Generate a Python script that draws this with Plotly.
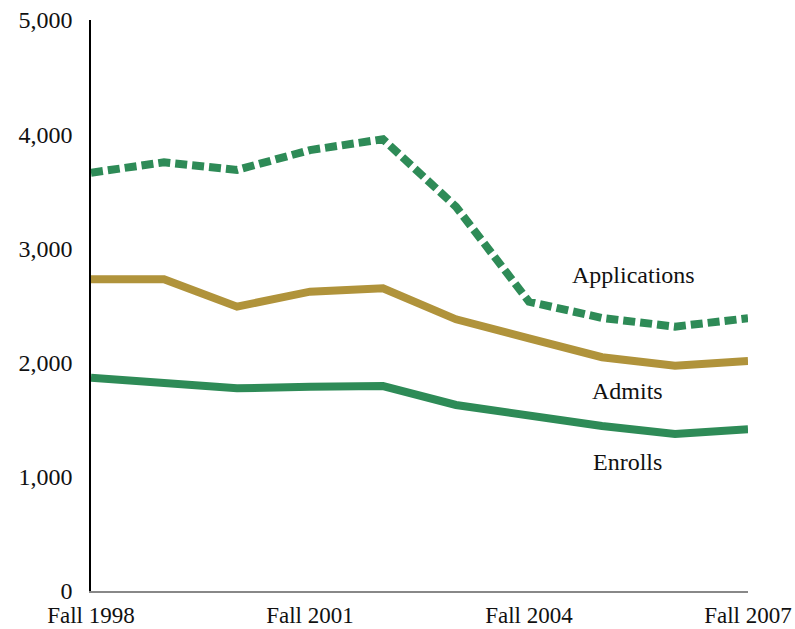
import plotly.graph_objects as go

years = ["Fall 1998", "Fall 1999", "Fall 2000", "Fall 2001", "Fall 2002",
         "Fall 2003", "Fall 2004", "Fall 2005", "Fall 2006", "Fall 2007"]
applications = [3663, 3754, 3687, 3861, 3956, 3365, 2533, 2391, 2315, 2388]
admits = [2730, 2730, 2490, 2621, 2651, 2379, 2213, 2047, 1973, 2014]
enrolls = [1868, 1824, 1775, 1789, 1795, 1629, 1532, 1445, 1375, 1416]
tick_idx = [0, 3, 6, 9]
y_ticks = [0, 1000, 2000, 3000, 4000, 5000]

GREEN = "#2E8B57"
GOLD = "#B0933B"
FONT = "Liberation Serif"
FS = 24

xs = list(range(len(years)))
fig = go.Figure()
fig.add_trace(go.Scatter(x=xs, y=enrolls, mode="lines", name="Enrolls",
                         line=dict(color=GREEN, width=8), cliponaxis=False))
fig.add_trace(go.Scatter(x=xs, y=admits, mode="lines", name="Admits",
                         line=dict(color=GOLD, width=8), cliponaxis=False))
fig.add_trace(go.Scatter(x=xs, y=applications, mode="lines", name="Applications",
                         line=dict(color=GREEN, width=8, dash="12px,5px"),
                         cliponaxis=False))

fig.update_layout(
    width=795, height=629,
    margin=dict(l=91, r=47, t=20, b=38),
    paper_bgcolor="white", plot_bgcolor="white",
    showlegend=False,
    font=dict(family=FONT, size=FS, color="#111"),
    xaxis=dict(range=[0, 9], tickvals=tick_idx,
               ticktext=[years[i] for i in tick_idx],
               tickfont=dict(size=23),
               showgrid=False, zeroline=False, showline=True,
               linecolor="#888", linewidth=1.5, ticks="",
               ticklabelstandoff=3, automargin=False,
               ticklabeloverflow="allow"),
    yaxis=dict(range=[0, 5000], tickvals=y_ticks, tickformat=",",
               showgrid=False, zeroline=False, showline=True,
               linecolor="black", linewidth=1.5, ticks="",
               ticklabelstandoff=12, automargin=False,
               ticklabeloverflow="allow"),
)

labels = [("Applications", 633, 275), ("Admits", 627, 391), ("Enrolls", 627, 462)]
for text, px, py in labels:
    fig.add_annotation(text=text, showarrow=False,
                       x=(px - 91) / (748 - 91), y=(591 - py) / (591 - 20),
                       xref="paper", yref="paper", xanchor="center", yanchor="middle",
                       font=dict(family=FONT, size=FS, color="#111"))

fig.write_html(
    "out.html",
    config={"displayModeBar": False},
    post_script="document.body.style.margin='0';document.body.style.overflow='hidden';",
)
